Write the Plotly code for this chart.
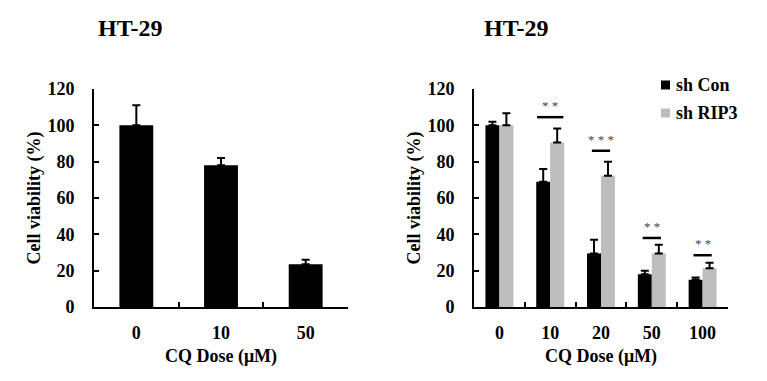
import plotly.graph_objects as go

# ---- data ----
left_doses = ["0", "10", "50"]
left_values = [100, 78, 23.5]
left_errors = [11, 4, 2.5]

right_doses = ["0", "10", "20", "50", "100"]
shcon_values = [100, 69, 29.5, 18, 15]
shcon_errors = [2, 7, 7.5, 2, 1.3]
shrip3_values = [100, 90.5, 72.3, 29.5, 21.3]
shrip3_errors = [6.6, 7.8, 7.7, 4.7, 3]

sig_index = [1, 2, 3, 4]
sig_labels = ["* *", "* * *", "* *", "* *"]
sig_line_y = [104.5, 86, 38, 28.5]
sig_half = [0.26, 0.18, 0.18, 0.18]

series_names = ["sh Con", "sh RIP3"]
series_colors = ["black", "#bdbdbd"]

title_text = "HT-29"
y_title = "Cell viability (%)"
x_title = "CQ Dose (μM)"

FONT = "Liberation Serif, Times New Roman, serif"
W, H = 767, 381
OFF = 8  # page body margin offset


def px(x):
    return (x - OFF) / W


def py(y):
    return 1 - (y - OFF) / H


fig = go.Figure()

fig.add_trace(go.Bar(
    x=left_doses, y=left_values, xaxis="x", yaxis="y",
    marker=dict(color="black", line=dict(width=0)),
    width=0.4, offset=-0.2, showlegend=False,
    error_y=dict(type="data", array=left_errors, arrayminus=[0]*3, symmetric=False,
                 color="black", thickness=2, width=4),
))
fig.add_trace(go.Bar(
    x=right_doses, y=shcon_values, xaxis="x2", yaxis="y2", name=series_names[0],
    marker=dict(color=series_colors[0], line=dict(width=0)),
    width=0.275, offset=-0.275, showlegend=False,
    error_y=dict(type="data", array=shcon_errors, arrayminus=[0]*5, symmetric=False,
                 color="black", thickness=2, width=4),
))
fig.add_trace(go.Bar(
    x=right_doses, y=shrip3_values, xaxis="x2", yaxis="y2", name=series_names[1],
    marker=dict(color=series_colors[1], line=dict(width=0)),
    width=0.275, offset=0, showlegend=False,
    error_y=dict(type="data", array=shrip3_errors, arrayminus=[0]*5, symmetric=False,
                 color="black", thickness=2, width=4),
))

shapes = []
annotations = []
for i, lab, ly, hw in zip(sig_index, sig_labels, sig_line_y, sig_half):
    shapes.append(dict(type="line", xref="x2", yref="y2", x0=i - hw, x1=i + hw,
                       y0=ly, y1=ly, line=dict(color="black", width=2.5)))
    annotations.append(dict(xref="x2", yref="y2", x=i, y=ly + 1.0, text=lab,
                            showarrow=False, yanchor="bottom",
                            font=dict(family=FONT, size=13, color="#444444")))

for xc in [130, 516]:
    annotations.append(dict(xref="paper", yref="paper", x=px(xc), y=py(28), text=title_text,
                            showarrow=False, xanchor="center", yanchor="middle",
                            font=dict(family=FONT, size=24, color="black", weight="bold")))

# manual legend
leg_y = [85, 113]
for name, col, yc in zip(series_names, series_colors, leg_y):
    shapes.append(dict(type="rect", xref="paper", yref="paper",
                       x0=px(661), x1=px(670), y0=py(yc + 4.5), y1=py(yc - 4.5),
                       fillcolor=col, line=dict(width=0)))
    annotations.append(dict(xref="paper", yref="paper", x=px(674), y=py(yc), text=name,
                            showarrow=False, xanchor="left", yanchor="middle",
                            font=dict(family=FONT, size=18, color="black", weight="bold")))

axis_font = dict(family=FONT, size=18, color="black", weight="bold")


def xaxis(x0, x1, anchor):
    return dict(domain=[px(x0), px(x1)], anchor=anchor, type="category", automargin=False,
                showline=True, linecolor="black", linewidth=2,
                ticks="inside", tickson="boundaries", ticklen=5, tickwidth=2, tickcolor="black",
                tickfont=axis_font, ticklabelstandoff=8, showgrid=False, zeroline=False,
                title=dict(text=x_title, font=axis_font, standoff=8), fixedrange=True)


def yaxis(anchor):
    return dict(domain=[py(307), py(89)], anchor=anchor, range=[0, 120], dtick=20,
                automargin=False,
                showline=True, linecolor="black", linewidth=2,
                ticks="inside", ticklen=5, tickwidth=2, tickcolor="black",
                tickfont=axis_font, ticklabelstandoff=14, showgrid=False, zeroline=False,
                title=dict(text=y_title, font=axis_font, standoff=2))


fig.update_layout(
    width=W, height=H,
    margin=dict(l=0, r=0, t=0, b=0, autoexpand=False),
    paper_bgcolor="white", plot_bgcolor="white",
    barmode="overlay",
    xaxis=xaxis(94, 348, "y"),
    yaxis=yaxis("x"),
    xaxis2=xaxis(474, 728, "y2"),
    yaxis2=yaxis("x2"),
    shapes=shapes,
    annotations=annotations,
    showlegend=False,
)

fig.write_html("out.html")
